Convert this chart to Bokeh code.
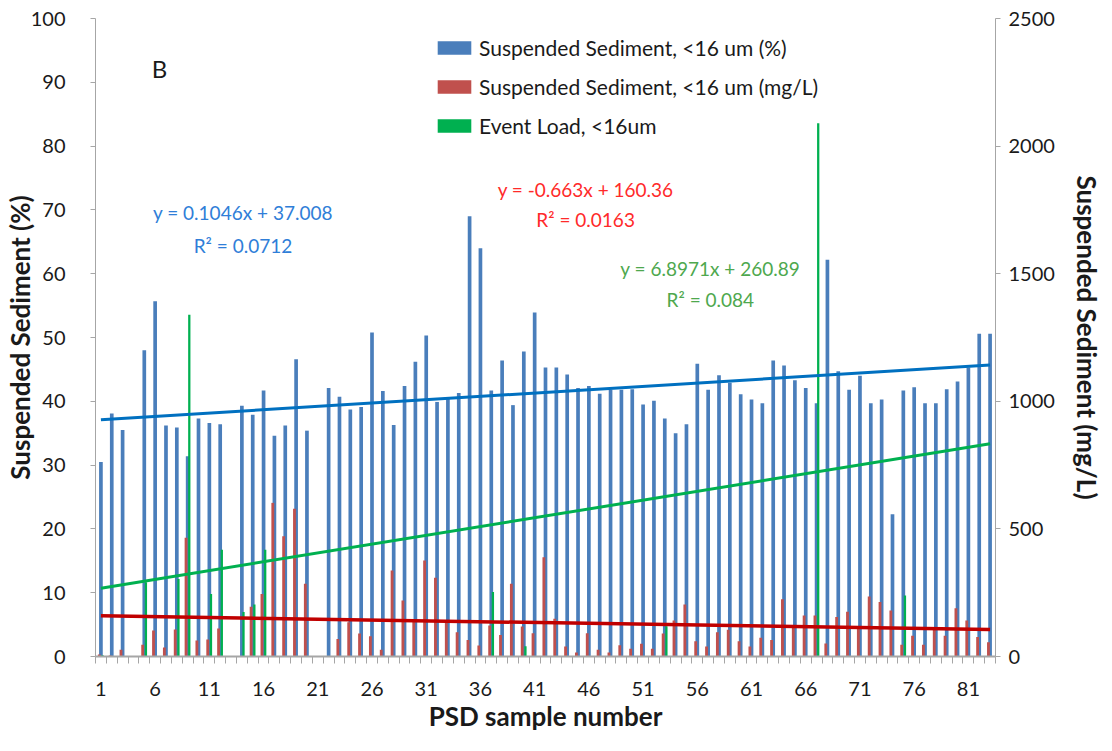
import numpy as np
from bokeh.plotting import figure
from bokeh.models import Range1d, LinearAxis, FixedTicker, Label, Legend, LegendItem, ColumnDataSource
from bokeh.embed import file_html
from bokeh.resources import INLINE

FONT = "Lato"

samples = list(range(1, 84))

# Suspended Sediment, <16 um (%)  -- left axis (None = no sample)
ss_pct = [30.5, 38.1, 35.5, None, 48.0, 55.7, 36.2, 35.9, 31.4, 37.3,
          36.6, 36.4, None, 39.3, 37.9, 41.7, 34.6, 36.2, 46.6, 35.4,
          None, 42.1, 40.7, 38.7, 39.1, 50.8, 41.6, 36.3, 42.4, 46.2,
          50.3, 39.9, 40.5, 41.3, 69.0, 64.0, 41.7, 46.4, 39.4, 47.8,
          53.9, 45.3, 45.3, 44.2, 42.1, 42.4, 41.2, 41.8, 41.8, 41.9,
          39.5, 40.1, 37.3, 35.0, 36.4, 45.9, 41.8, 44.1, 42.9, 41.1,
          40.3, 39.7, 46.4, 45.6, 43.3, 42.1, 39.7, 62.2, 44.7, 41.8,
          44.0, 39.7, 40.3, 22.3, 41.7, 42.2, 39.7, 39.7, 41.9, 43.1,
          45.3, 50.6, 50.6]

# Suspended Sediment, <16 um (mg/L) -- right axis
ss_mgl = [8, 4, 26, 0, 46, 102, 35, 106, 465, 63,
          67, 110, 0, 0, 195, 245, 602, 471, 579, 285,
          0, 0, 69, 134, 90, 79, 26, 337, 219, 138,
          376, 309, 134, 95, 65, 43, 121, 84, 285, 118,
          91, 389, 148, 39, 16, 91, 26, 16, 44, 30,
          50, 30, 90, 141, 204, 60, 39, 95, 105, 60,
          39, 73, 65, 224, 112, 161, 161, 51, 155, 175,
          115, 235, 214, 180, 46, 81, 46, 108, 81, 189,
          141, 76, 56]

# Event Load, <16um -- right axis
event_samples = [1, 5, 8, 9, 11, 12, 14, 15, 16, 37, 40, 53, 67, 75]
event_load = [5, 291, 304, 1339, 245, 418, 174, 204, 418, 253, 40, 119, 2090, 239]

# trendline coefficients as printed on the chart
blue_slope, blue_icpt = 0.1046, 37.008
red_slope, red_icpt = -0.663, 160.36
green_slope, green_icpt = 6.8971, 260.89

x_tick_labels = list(range(1, 82, 5))
left_ticks = list(range(0, 101, 10))
right_ticks = list(range(0, 2501, 500))

BLUE = "#4a7ebb"
RED = "#c0504d"
GREEN = "#00b050"
AXIS_GRAY = "#a6a6a6"
TXT = "#1a1a1a"

p = figure(width=1110, height=750, output_backend="svg", toolbar_location=None,
           x_range=Range1d(0.5, 83.5), y_range=Range1d(0, 100),
           min_border_left=92, min_border_right=115, min_border_top=18, min_border_bottom=94)
p.extra_y_ranges = {"mg": Range1d(0, 2500)}
p.outline_line_color = None
p.xgrid.visible = False
p.ygrid.visible = False
p.background_fill_color = "white"
p.border_fill_color = "white"

bx = [s for s, v in zip(samples, ss_pct) if v is not None]
bt = [v for v in ss_pct if v is not None]
src_b = ColumnDataSource(dict(x=bx, top=bt))
src_r = ColumnDataSource(dict(x=[s - 0.15 for s in samples], top=ss_mgl))
src_g = ColumnDataSource(dict(x=[s + 0.15 for s in event_samples], top=event_load))

rb = p.vbar(x="x", top="top", bottom=0, width=0.34, source=src_b, fill_color=BLUE, line_color=None)
rr = p.vbar(x="x", top="top", bottom=0, width=0.26, source=src_r, fill_color=RED, line_color=None,
            y_range_name="mg")
rg = p.vbar(x="x", top="top", bottom=0, width=0.21, source=src_g, fill_color=GREEN, line_color=None,
            y_range_name="mg")

tx = np.array([1, 83])
p.line(tx, blue_slope * tx + blue_icpt, line_color="#0070c0", line_width=3)
p.line(tx, green_slope * tx + green_icpt, line_color="#00b050", line_width=3, y_range_name="mg")
p.line(tx, red_slope * tx + red_icpt, line_color="#c00000", line_width=3.5, y_range_name="mg")

# axes
xa = p.xaxis[0]
xa.ticker = FixedTicker(ticks=x_tick_labels, minor_ticks=[k + 0.5 for k in range(0, 84)])
xa.axis_line_color = AXIS_GRAY
xa.axis_line_width = 2
xa.major_tick_out = 0
xa.major_tick_in = 0
xa.minor_tick_out = 7
xa.minor_tick_in = 0
xa.minor_tick_line_color = AXIS_GRAY
xa.major_label_standoff = 18
xa.major_label_text_font = FONT
xa.major_label_text_font_size = "20px"
xa.major_label_text_color = TXT
xa.axis_label = "PSD sample number"
xa.axis_label_text_font = FONT
xa.axis_label_text_font_size = "26px"
xa.axis_label_text_font_style = "bold"
xa.axis_label_text_color = TXT
xa.axis_label_standoff = 1

ya = p.yaxis[0]
ya.ticker = FixedTicker(ticks=left_ticks)
ya.axis_line_color = AXIS_GRAY
ya.major_tick_line_color = AXIS_GRAY
ya.major_tick_out = 5
ya.major_tick_in = 0
ya.minor_tick_out = 0
ya.minor_tick_in = 0
ya.major_label_standoff = 25
ya.major_label_text_font = FONT
ya.major_label_text_font_size = "20px"
ya.major_label_text_color = TXT
ya.axis_label = "Suspended Sediment (%)"
ya.axis_label_text_font = FONT
ya.axis_label_text_font_size = "26px"
ya.axis_label_text_font_style = "bold"
ya.axis_label_text_color = TXT
ya.axis_label_standoff = -8

ra = LinearAxis(y_range_name="mg", ticker=FixedTicker(ticks=right_ticks))
ra.axis_line_color = AXIS_GRAY
ra.major_tick_line_color = AXIS_GRAY
ra.major_tick_out = 5
ra.major_tick_in = 0
ra.minor_tick_out = 0
ra.minor_tick_in = 0
ra.major_label_standoff = 8
ra.major_label_text_font = FONT
ra.major_label_text_font_size = "20px"
ra.major_label_text_color = TXT
ra.axis_label = "Suspended Sediment (mg/L)"
ra.axis_label_text_font = FONT
ra.axis_label_text_font_size = "26px"
ra.axis_label_text_font_style = "bold"
ra.axis_label_text_color = TXT
ra.axis_label_standoff = 13
p.add_layout(ra, "right")

legend = Legend(items=[
    LegendItem(label="Suspended Sediment, <16 um (%)", renderers=[rb]),
    LegendItem(label="Suspended Sediment, <16 um (mg/L)", renderers=[rr]),
    LegendItem(label="Event Load, <16um", renderers=[rg]),
], location=(338, 518))
legend.background_fill_alpha = 0
legend.border_line_color = None
legend.padding = 0
legend.margin = 0
legend.spacing = 14
legend.glyph_width = 42
legend.glyph_height = 17
legend.label_height = 24
legend.label_standoff = 4
legend.label_text_font = FONT
legend.label_text_font_size = "21px"
legend.label_text_color = TXT
p.add_layout(legend)

def lab(x, y, text, color, size="19px"):
    p.add_layout(Label(x=x, y=y, text=text, text_color=color, text_font=FONT,
                       text_font_size=size, text_align="center", text_baseline="middle"))

lab(6.4, 92.2, "B", TXT, "24px")
lab(14.1, 69.6, "y = 0.1046x + 37.008", "#2f7ed8")
lab(14.1, 64.4, "R² = 0.0712", "#2f7ed8")
lab(45.7, 73.2, "y = -0.663x + 160.36", "#ff2a2a")
lab(45.7, 68.5, "R² = 0.0163", "#ff2a2a")
lab(57.2, 60.8, "y = 6.8971x + 260.89", "#4ea84e")
lab(57.2, 56.0, "R² = 0.084", "#4ea84e")

open("out.html", "w").write(file_html(p, INLINE))
